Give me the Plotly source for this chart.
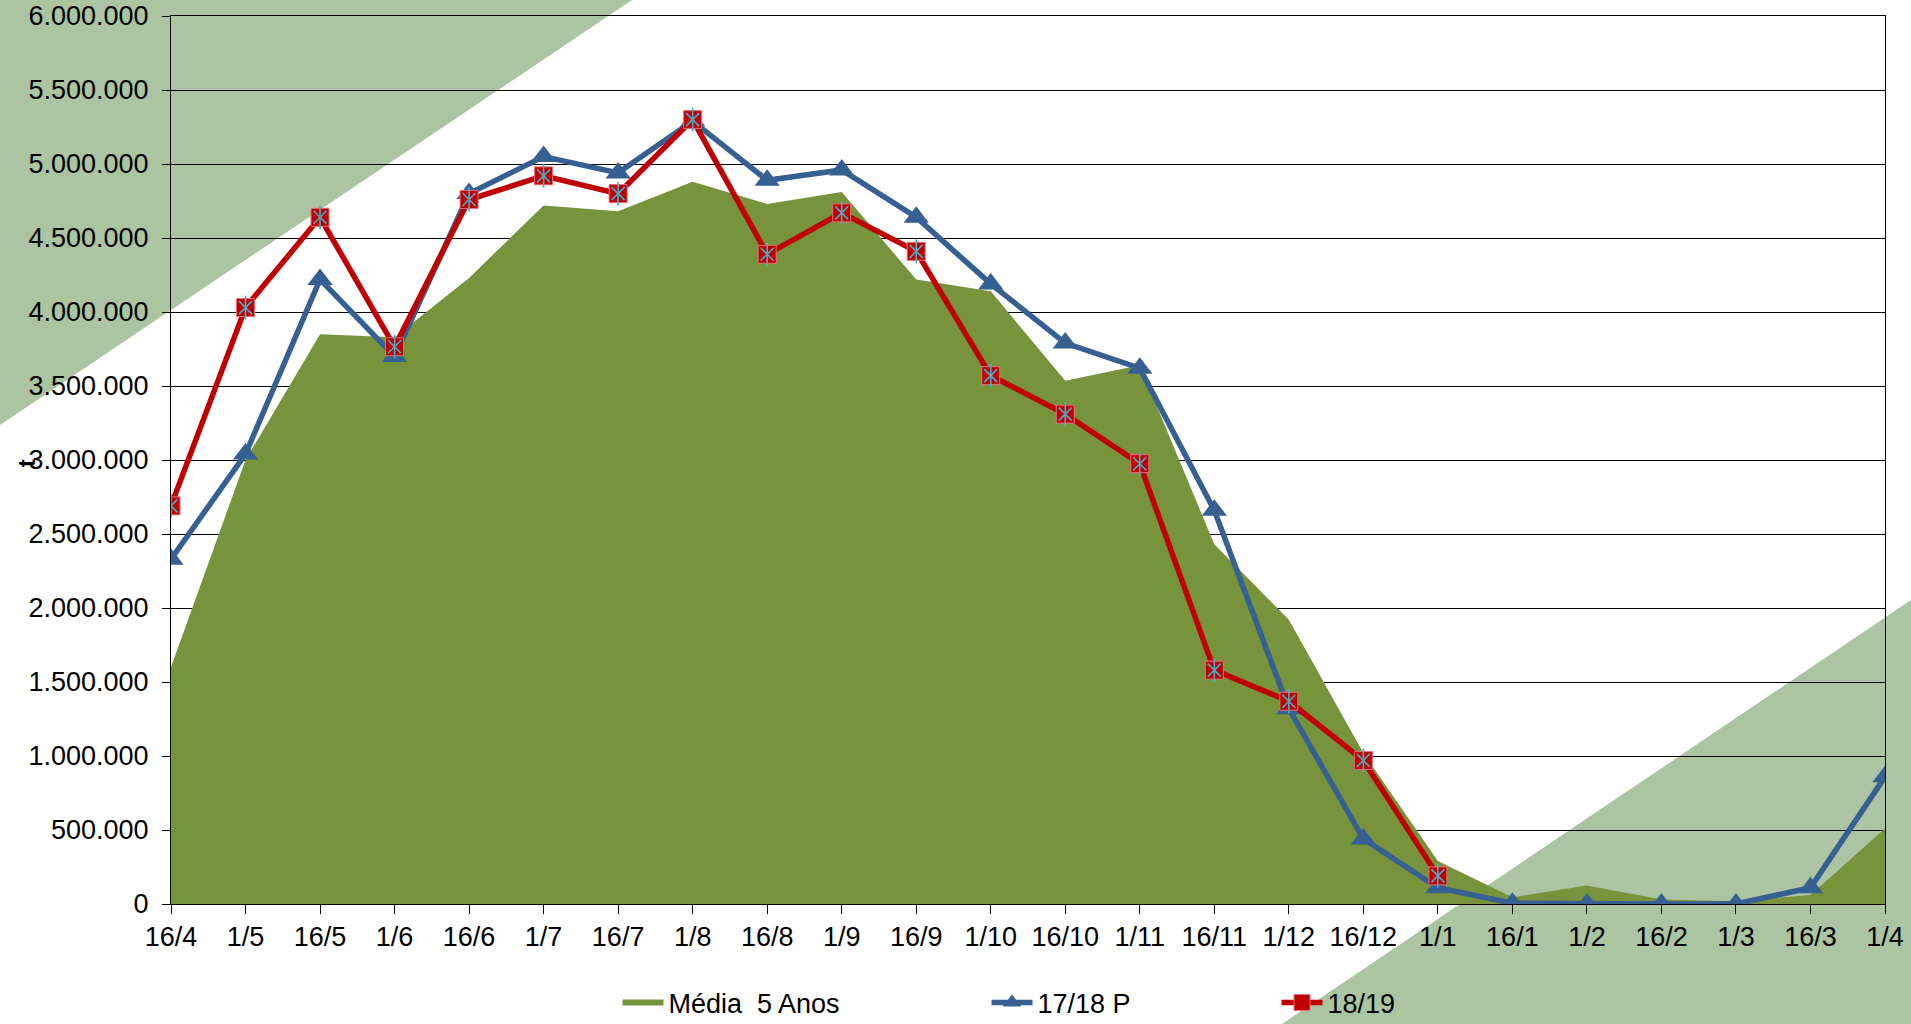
import plotly.graph_objects as go

categories = ["16/4", "1/5", "16/5", "1/6", "16/6", "1/7", "16/7", "1/8", "16/8", "1/9",
              "16/9", "1/10", "16/10", "1/11", "16/11", "1/12", "16/12", "1/1", "16/1",
              "1/2", "16/2", "1/3", "16/3", "1/4"]

media_5_anos = [1600000, 3000000, 3850000, 3830000, 4230000, 4720000, 4680000, 4880000,
                4730000, 4810000, 4220000, 4140000, 3535000, 3640000, 2430000, 1920000,
                1020000, 290000, 45000, 125000, 30000, 18000, 60000, 510000]

safra_17_18_p = [2330000, 3040000, 4220000, 3700000, 4800000, 5050000, 4940000, 5290000,
                 4890000, 4960000, 4640000, 4190000, 3790000, 3620000, 2660000, 1320000,
                 440000, 110000, 5000, 0, 0, 0, 110000, 860000]

safra_18_19 = [2690000, 4030000, 4640000, 3765000, 4760000, 4920000, 4800000, 5300000,
               4390000, 4670000, 4410000, 3570000, 3310000, 2975000, 1580000, 1370000,
               970000, 190000, None, None, None, None, None, None]

y_ticks = list(range(0, 6000001, 500000))

OLIVE = "#77933c"
BLUE = "#376092"
RED = "#c00000"
CYAN = "#4bacc6"
BG_GREEN = "#abc4a1"
FONT = "Liberation Sans, Arial, sans-serif"

fig = go.Figure()

fig.add_trace(go.Scatter(
    x=categories, y=media_5_anos, name="Média  5 Anos", mode="none",
    fill="tozeroy", fillcolor=OLIVE, legend="legend"))

fig.add_trace(go.Scatter(
    x=categories, y=safra_17_18_p, name="17/18 P", mode="lines+markers",
    line=dict(color=BLUE, width=5.5),
    marker=dict(symbol="triangle-up", size=22, color=BLUE),
    legend="legend2"))

fig.add_trace(go.Scatter(
    x=categories, y=safra_18_19, name="18/19", mode="lines+markers",
    line=dict(color=RED, width=5.5),
    marker=dict(symbol="square", size=18, color=RED, line=dict(color="#e8707a", width=1)),
    legend="legend3"))

fig.add_trace(go.Scatter(
    x=categories, y=safra_18_19, mode="markers", showlegend=False, hoverinfo="skip",
    marker=dict(symbol="x-thin-open", size=13, color=CYAN, line=dict(color=CYAN, width=1.6))))

fig.add_trace(go.Scatter(
    x=categories, y=safra_18_19, mode="markers", showlegend=False, hoverinfo="skip",
    marker=dict(symbol="line-ns-open", size=17, color=CYAN, line=dict(color=CYAN, width=1.6))))

# plot area in px: x 171..1885, y 16..904
shapes = [
    dict(type="path", xref="paper", yref="paper", layer="below",
         path="M -0.09977,1.01802 L 0.26896,1.01802 L -0.09977,0.53941 Z",
         fillcolor=BG_GREEN, line=dict(width=0)),
    dict(type="path", xref="paper", yref="paper", layer="below",
         path="M 0.64819,-0.13514 L 1.01517,0.34234 L 1.01517,-0.13514 Z",
         fillcolor=BG_GREEN, line=dict(width=0)),
]

legend_common = dict(orientation="h", yanchor="middle", y=-0.1115, xanchor="left",
                     bgcolor="rgba(0,0,0,0)", borderwidth=0,
                     font=dict(family=FONT, size=27, color="black"), itemwidth=41)

fig.update_layout(
    autosize=True,
    margin=dict(l=171, r=26, t=16, b=120, pad=0, autoexpand=False),
    paper_bgcolor="white", plot_bgcolor="rgba(0,0,0,0)",
    separators=",.",
    font=dict(family=FONT, size=27, color="black"),
    shapes=shapes,
    showlegend=True,
    legend=dict(legend_common, x=0.2605),
    legend2=dict(legend_common, x=0.4758),
    legend3=dict(legend_common, x=0.6450),
    annotations=[dict(text="<b>t</b>", xref="paper", yref="paper", x=-0.0935, y=0.4966,
                      textangle=-90, showarrow=False, font=dict(size=24, family=FONT))],
    xaxis=dict(type="category", range=[0, 23], showgrid=False, showline=True,
               linecolor="black", linewidth=1, mirror=True,
               ticks="outside", ticklen=9, tickcolor="black",
               tickfont=dict(size=27, family=FONT), ticklabelstandoff=0),
    yaxis=dict(range=[0, 6000000], tickvals=y_ticks, tickformat=",d",
               showgrid=True, gridcolor="black", gridwidth=1,
               showline=True, linecolor="black", linewidth=1, mirror=True,
               ticks="outside", ticklen=8, tickcolor="black", zeroline=False,
               tickfont=dict(size=27, family=FONT), ticklabelstandoff=8),
)

fig.write_html(
    "out.html",
    config={"displayModeBar": False},
    default_width="100vw",
    default_height="100vh",
    post_script=("document.body.style.margin='0';document.body.style.overflow='hidden';"
                 "Plotly.Plots.resize(document.getElementById('{plot_id}'));"),
)
